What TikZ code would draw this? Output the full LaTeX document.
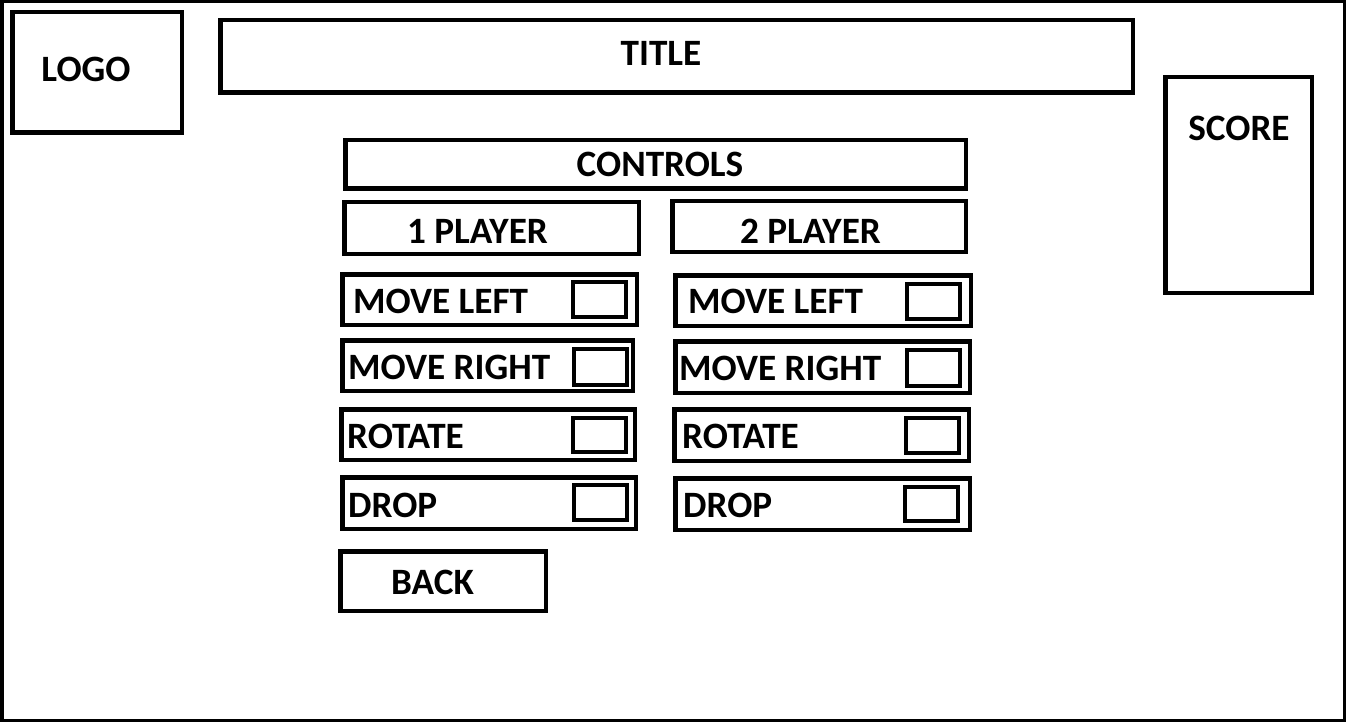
\documentclass[tikz,border=0pt]{standalone}
\usepackage{fontspec}
\setmainfont{Carlito}

\begin{document}
\begin{tikzpicture}[x=1pt, y=-1pt,
  box/.style={draw, line width=4.5pt, inner sep=0pt},
  keybox/.style={draw, line width=4pt, inner sep=0pt, minimum width=53pt, minimum height=35pt},
  lbl/.style={inner sep=0pt, font=\fontsize{37.2}{42}\selectfont\bfseries}]
\useasboundingbox (0,0) rectangle (1346,722);
% Frame
\draw[line width=3.5pt] (1.75,1.75) rectangle (1344.25,720.25);
% Header
\node[box, minimum width=169.5pt, minimum height=120.5pt] (logo) at (97,72.5) {};
\node[lbl] (logotxt) at (86,69) {LOGO};
\node[box, minimum width=912.5pt, minimum height=72.5pt] (title) at (676.5,56.5) {};
\node[lbl] (titletxt) at (661,53) {TITLE};
\node[box, minimum width=146.5pt, minimum height=215.5pt] (score) at (1238.5,185) {};
\node[lbl] (scoretxt) at (1239,128) {SCORE};
% Controls heading
\node[box, minimum width=620.5pt, minimum height=48.5pt] (controls) at (655.5,164.5) {};
\node[lbl] (controlstxt) at (660,164) {CONTROLS};
\node[box, minimum width=294.5pt, minimum height=51.5pt] (pone) at (491.5,228) {};
\node[lbl] (ponetxt) at (477.5,231) {1 PLAYER};
\node[box, minimum width=293.5pt, minimum height=50.5pt] (ptwo) at (819,226.5) {};
\node[lbl] (ptwotxt) at (810.5,231) {2 PLAYER};
% Player 1 column
\node[box, minimum width=294.5pt, minimum height=50.5pt] (mlA) at (489.5,299.5) {};
\node[keybox] (mlAkey) at (599.5,299.5) {};
\node[lbl, anchor=west] (mlAtxt) at (353,301) {MOVE LEFT};
\node[box, minimum width=290.5pt, minimum height=50.5pt] (mrA) at (487.5,365.5) {};
\node[keybox, minimum height=36pt] (mrAkey) at (600.5,367) {};
\node[lbl, anchor=west] (mrAtxt) at (348,367) {MOVE RIGHT};
\node[box, minimum width=293.5pt, minimum height=50.5pt] (rotA) at (488,434.5) {};
\node[keybox, minimum height=34pt] (rotAkey) at (599.5,435) {};
\node[lbl, anchor=west] (rotAtxt) at (347,436) {ROTATE};
\node[box, minimum width=293.5pt, minimum height=51.5pt] (drA) at (489,503) {};
\node[keybox] (drAkey) at (600.5,502.5) {};
\node[lbl, anchor=west] (drAtxt) at (348,505) {DROP};
% Player 2 column
\node[box, minimum width=295.5pt, minimum height=50.5pt] (mlB) at (823,300.5) {};
\node[keybox] (mlBkey) at (933.5,301.5) {};
\node[lbl, anchor=west] (mlBtxt) at (688,301) {MOVE LEFT};
\node[box, minimum width=294.5pt, minimum height=51.5pt] (mrB) at (822.5,367) {};
\node[keybox, minimum height=36pt] (mrBkey) at (933.5,368) {};
\node[lbl, anchor=west] (mrBtxt) at (679,368) {MOVE RIGHT};
\node[box, minimum width=294.5pt, minimum height=51.5pt] (rotB) at (821.5,435) {};
\node[keybox] (rotBkey) at (932.5,435.5) {};
\node[lbl, anchor=west] (rotBtxt) at (682,436) {ROTATE};
\node[box, minimum width=294.5pt, minimum height=51.5pt] (drB) at (822.5,504) {};
\node[keybox, minimum height=34pt] (drBkey) at (931.5,504) {};
\node[lbl, anchor=west] (drBtxt) at (683,505) {DROP};
% Back button
\node[box, minimum width=205.5pt, minimum height=59.5pt] (back) at (443,581) {};
\node[lbl] (backtxt) at (432.5,582) {BACK};
\end{tikzpicture}
\end{document}
